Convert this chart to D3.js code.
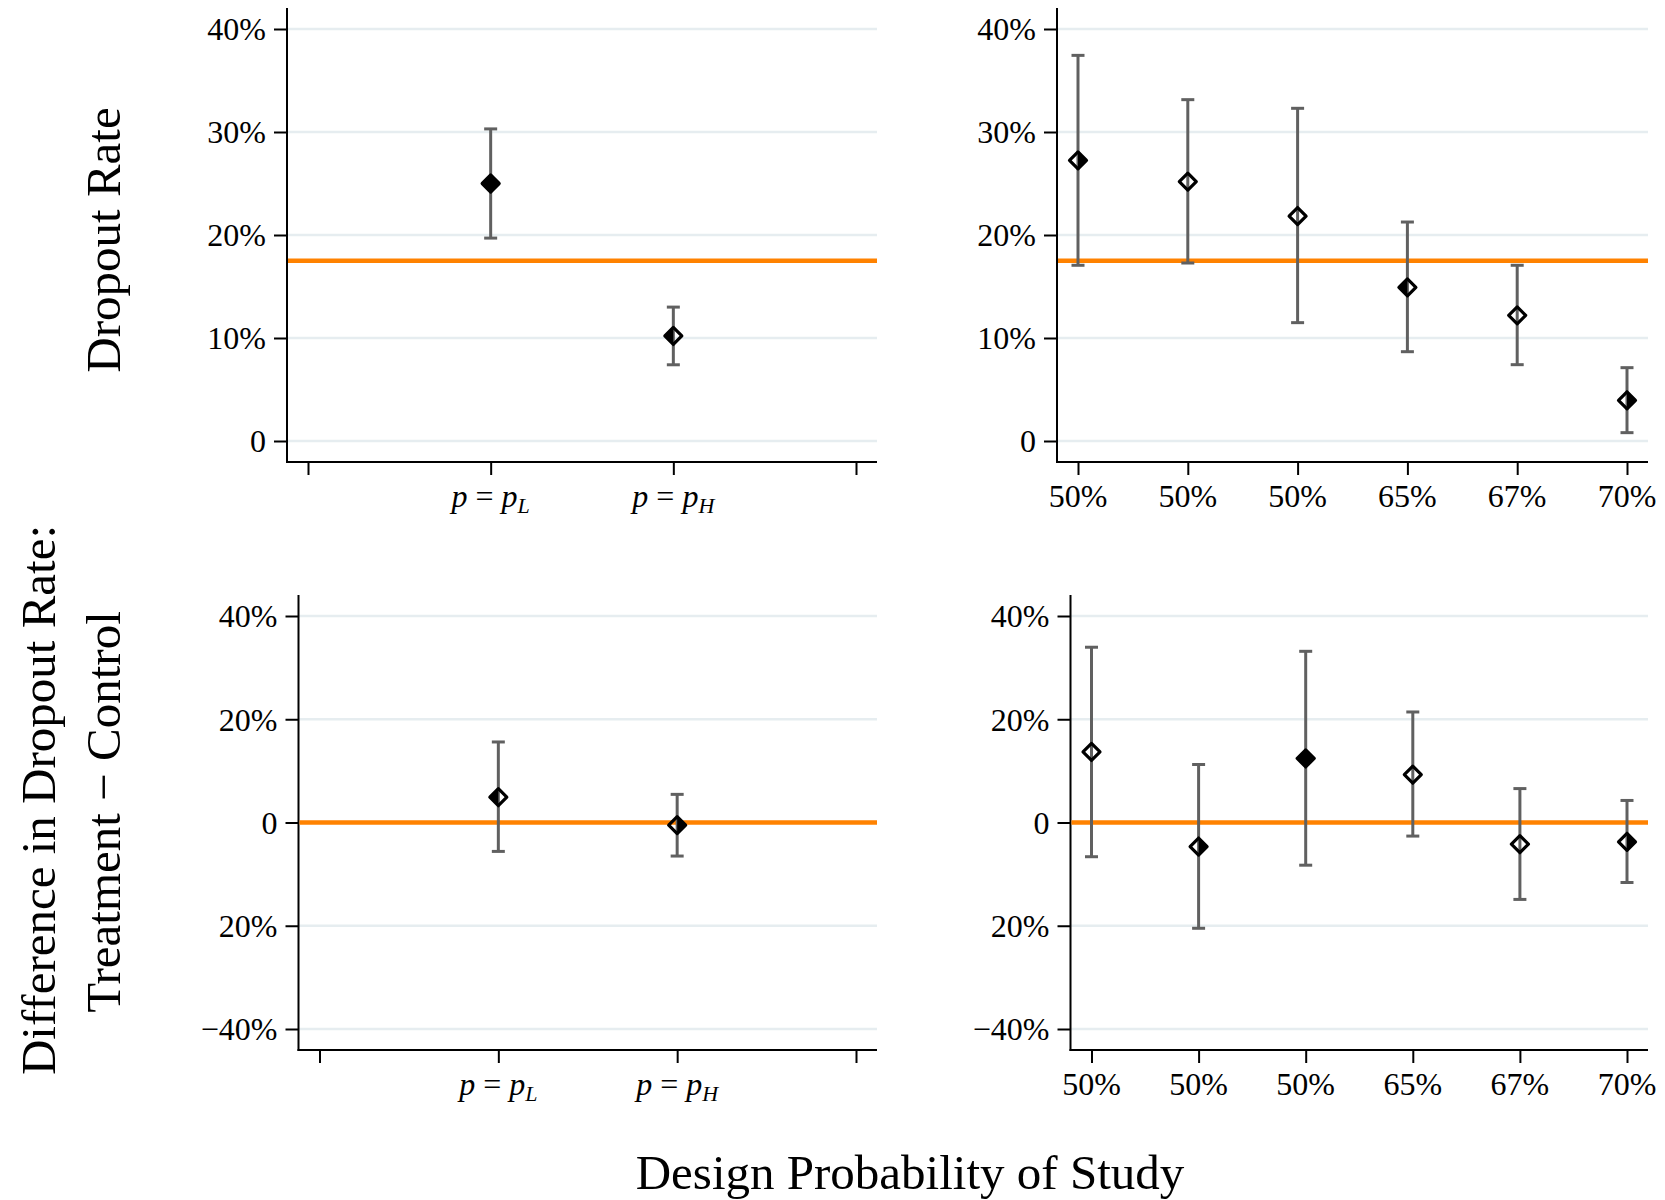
<!DOCTYPE html>
<html>
<head>
<meta charset="utf-8">
<script src="https://cdn.jsdelivr.net/npm/d3@7"></script>
<style>
  body { margin: 0; background: #fff; }
  svg text { font-family: "Liberation Serif", "Times New Roman", serif; fill: #000; }
</style>
</head>
<body>
<div id="chart"></div>
<script>
// Values (share of participants)
var leftSubs = ["L", "H"];                       // p = p_L, p = p_H
var rightCats = ["50%", "50%", "50%", "65%", "67%", "70%"];

var topLeftEst = [0.250, 0.102];
var topLeftLo  = [0.197, 0.074];
var topLeftHi  = [0.303, 0.130];

var topRightEst = [0.2725, 0.2518, 0.2184, 0.1492, 0.1220, 0.0395];
var topRightLo  = [0.1706, 0.1728, 0.1149, 0.0867, 0.0741, 0.0081];
var topRightHi  = [0.3744, 0.3314, 0.3230, 0.2126, 0.1706, 0.0712];

var bottomLeftEst = [0.049, -0.005];
var bottomLeftLo  = [-0.056, -0.065];
var bottomLeftHi  = [0.156, 0.0545];

var bottomRightEst = [0.1366, -0.0466, 0.1241, 0.0926, -0.0420, -0.0374];
var bottomRightLo  = [-0.0663, -0.2049, -0.0827, -0.0263, -0.1490, -0.1162];
var bottomRightHi  = [0.3395, 0.1123, 0.3316, 0.2141, 0.0657, 0.0427];

var topRef = 0.175;     // orange reference line
var bottomRef = 0;

var topTicks = [0, 0.1, 0.2, 0.3, 0.4];
var topTickLabels = ["0", "10%", "20%", "30%", "40%"];
var bottomTicks = [-0.4, -0.2, 0, 0.2, 0.4];
var bottomTickLabels = ["\u221240%", "20%", "0", "20%", "40%"];

// how the diamond markers look filled in the picture
var topLeftShade = ["full", "left"];
var topRightShade = ["right", "none", "none", "left", "none", "right"];
var bottomLeftShade = ["left", "right"];
var bottomRightShade = ["none", "right", "full", "none", "none", "right"];

var svgWidth = 1665;
var svgHeight = 1200;

var svg = d3.select("#chart").append("svg")
    .attr("width", svgWidth)
    .attr("height", svgHeight);

var gridColor = "#e6edf0";
var orange = "#ff8200";
var barColor = "#606060";

// panel frames (pixel boxes)
var panels = [
    {x0: 287, x1: 877, y0: 8, y1: 462, est: topLeftEst, lo: topLeftLo, hi: topLeftHi,
     shade: topLeftShade, ticks: topTicks, labels: topTickLabels, ref: topRef, kind: "left"},
    {x0: 1057, x1: 1648, y0: 8, y1: 462, est: topRightEst, lo: topRightLo, hi: topRightHi,
     shade: topRightShade, ticks: topTicks, labels: topTickLabels, ref: topRef, kind: "right"},
    {x0: 298.5, x1: 877, y0: 595, y1: 1050, est: bottomLeftEst, lo: bottomLeftLo, hi: bottomLeftHi,
     shade: bottomLeftShade, ticks: bottomTicks, labels: bottomTickLabels, ref: bottomRef, kind: "left"},
    {x0: 1070.5, x1: 1648, y0: 595, y1: 1050, est: bottomRightEst, lo: bottomRightLo, hi: bottomRightHi,
     shade: bottomRightShade, ticks: bottomTicks, labels: bottomTickLabels, ref: bottomRef, kind: "right"}
];

var pad = 21;       // gap between axis ends and outer ticks
var half = 8.5;     // diamond half size
var capHalf = 6.5;

function diamond(cx, cy, side) {
    // side: full outline, or the left / right half
    if (side === "left") return `M${cx},${cy - half}L${cx - half},${cy}L${cx},${cy + half}Z`;
    if (side === "right") return `M${cx},${cy - half}L${cx + half},${cy}L${cx},${cy + half}Z`;
    return `M${cx},${cy - half}L${cx + half},${cy}L${cx},${cy + half}L${cx - half},${cy}Z`;
}

panels.forEach(function(p) {
    var g = svg.append("g");

    var nTicks = p.kind === "left" ? 4 : 6;
    var x = d3.scaleLinear()
        .domain([0, nTicks - 1])
        .range([p.x0 + pad, p.x1 - pad]);
    var y = d3.scaleLinear()
        .domain([d3.min(p.ticks), d3.max(p.ticks)])
        .range([p.y1 - pad, p.y0 + pad]);

    // gridlines
    g.selectAll(".grid").data(p.ticks).enter().append("line")
        .attr("x1", p.x0).attr("x2", p.x1)
        .attr("y1", d => y(d)).attr("y2", d => y(d))
        .attr("stroke", gridColor).attr("stroke-width", 2.5);

    // y axis
    var leftAxis = d3.axisLeft(y)
        .tickValues(p.ticks)
        .tickSize(13)
        .tickSizeOuter(0)
        .tickPadding(8)
        .tickFormat((d, i) => p.labels[i]);
    var ya = g.append("g").attr("transform", `translate(${p.x0},0)`).call(leftAxis);
    ya.select(".domain").remove();
    ya.selectAll("line").attr("stroke", "#000").attr("stroke-width", 2);
    ya.selectAll("text").attr("font-size", 32).attr("dy", "0.34em")
        .style("font-family", "'Liberation Serif', 'Times New Roman', serif");

    // x axis
    var xTickVals = d3.range(nTicks);
    var bottomAxis = d3.axisBottom(x)
        .tickValues(xTickVals)
        .tickSize(13)
        .tickSizeOuter(0)
        .tickFormat("");
    var xa = g.append("g").attr("transform", `translate(0,${p.y1})`).call(bottomAxis);
    xa.select(".domain").remove();
    xa.selectAll("line").attr("stroke", "#000").attr("stroke-width", 2);

    // axis lines
    g.append("line").attr("x1", p.x0).attr("x2", p.x0).attr("y1", p.y0).attr("y2", p.y1 + 1)
        .attr("stroke", "#000").attr("stroke-width", 2);
    g.append("line").attr("x1", p.x0 - 1).attr("x2", p.x1).attr("y1", p.y1).attr("y2", p.y1)
        .attr("stroke", "#000").attr("stroke-width", 2);

    // x tick labels
    if (p.kind === "left") {
        leftSubs.forEach(function(s, i) {
            var t = g.append("text")
                .attr("x", x(i + 1))
                .attr("y", p.y1 + 45)
                .attr("text-anchor", "middle")
                .attr("font-size", 32);
            t.append("tspan").attr("font-style", "italic").text("p");
            t.append("tspan").text(" = ");
            t.append("tspan").attr("font-style", "italic").text("p");
            t.append("tspan").attr("font-style", "italic").attr("font-size", 22)
                .attr("dy", 6).text(s);
        });
    } else {
        g.selectAll(".xl").data(rightCats).enter().append("text")
            .attr("x", (d, i) => x(i))
            .attr("y", p.y1 + 45)
            .attr("text-anchor", "middle")
            .attr("font-size", 32)
            .text(d => d);
    }

    var pos = p.est.map((d, i) => p.kind === "left" ? i + 1 : i);

    // reference line
    g.append("line")
        .attr("x1", p.x0 + 1).attr("x2", p.x1)
        .attr("y1", y(p.ref)).attr("y2", y(p.ref))
        .attr("stroke", orange).attr("stroke-width", 4.5);

    // error bars
    p.est.forEach(function(d, i) {
        var cx = x(pos[i]);
        g.append("line").attr("x1", cx).attr("x2", cx)
            .attr("y1", y(p.lo[i])).attr("y2", y(p.hi[i]))
            .attr("stroke", barColor).attr("stroke-width", 3);
        [p.lo[i], p.hi[i]].forEach(function(v) {
            g.append("line").attr("x1", cx - capHalf).attr("x2", cx + capHalf)
                .attr("y1", y(v)).attr("y2", y(v))
                .attr("stroke", barColor).attr("stroke-width", 3);
        });
    });

    // diamond markers
    p.est.forEach(function(d, i) {
        var cx = x(pos[i]), cy = y(d);
        var sh = p.shade[i];
        if (sh === "left" || sh === "right") {
            g.append("path").attr("d", diamond(cx, cy, sh)).attr("fill", "#000");
        }
        g.append("path").attr("d", diamond(cx, cy, "full"))
            .attr("fill", sh === "full" ? "#000" : "none")
            .attr("stroke", "#000").attr("stroke-width", 3.2)
            .attr("stroke-linejoin", "round");
    });
});

// axis titles
svg.append("text")
    .attr("transform", "translate(120,240) rotate(-90)")
    .attr("text-anchor", "middle")
    .attr("font-size", 49)
    .text("Dropout Rate");

svg.append("text")
    .attr("transform", "translate(55,800) rotate(-90)")
    .attr("text-anchor", "middle")
    .attr("font-size", 49)
    .text("Difference in Dropout Rate:");

svg.append("text")
    .attr("transform", "translate(120,812) rotate(-90)")
    .attr("text-anchor", "middle")
    .attr("font-size", 49)
    .text("Treatment \u2212 Control");

svg.append("text")
    .attr("x", 910)
    .attr("y", 1189)
    .attr("text-anchor", "middle")
    .attr("font-size", 49)
    .text("Design Probability of Study");
</script>
</body>
</html>
